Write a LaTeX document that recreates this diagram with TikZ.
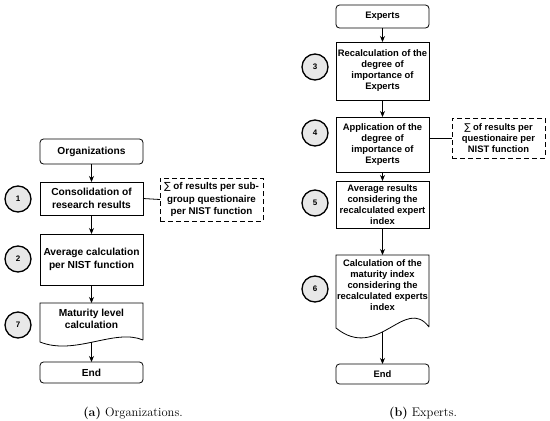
\documentclass[tikz,border=0pt]{standalone}
\usepackage{fontspec}
\newfontfamily\boxfont{Liberation Sans}
\newfontfamily\sumfont{DejaVu Sans}
\newcommand{\sumsign}{{\sumfont\mdseries ∑}}
\usetikzlibrary{arrows.meta,calc}
\begin{document}
\begin{tikzpicture}[x=1pt, y=-1pt, >={Stealth[length=6pt,width=5pt]},
  proc/.style={draw, shape=rectangle, line width=0.8pt, outer sep=0pt, inner xsep=1pt,
    align=center, font=\boxfont\bfseries\fontsize{9.4}{11}\selectfont},
  largetext/.style={font=\boxfont\bfseries\fontsize{10.2}{12.4}\selectfont},
  startend/.style={proc, rounded corners=3.5pt},
  docbox/.style={proc, draw=none},
  docline/.style={line width=0.8pt},
  sumnote/.style={proc, line width=0.8pt, dash pattern=on 5pt off 3pt},
  stepnum/.style={draw, shape=circle, line width=1.3pt, fill=gray!18, minimum size=26pt,
    inner sep=0pt, font=\boxfont\bfseries\fontsize{8}{9}\selectfont},
  caption/.style={font=\fontsize{12.5}{14}\selectfont}]
\useasboundingbox (0,0) rectangle (550,421);
% (a) organizations
\node (org) [startend, largetext, minimum width=103, minimum height=25] at (91.5,151.5) {Organizations};
\node (cons) [proc, largetext, minimum width=103, minimum height=33] at (91.5,198.5) {Consolidation of\\research results};
\node (avg) [proc, largetext, minimum width=103, minimum height=51] at (91.5,259.5) {Average calculation\\per NIST function};
\node (mat) [docbox, largetext, minimum width=103] at (91.5,319) {Maturity level\\calculation};
\node (endA) [startend, largetext, minimum width=103, minimum height=21] at (91.5,372.5) {End};
\node (sumA) [sumnote, largetext, font=\boxfont\bfseries\fontsize{9.8}{12.2}\selectfont,
  minimum width=103, minimum height=43] at (211.5,199.5)
  {\sumsign{} of results per sub-\\group questionaire\\per NIST function};
\node (n1) [stepnum] at (18,199) {1};
\node (n2) [stepnum] at (18,259) {2};
\node (n7) [stepnum] at (18,325) {7};
\draw[docline] ($(mat.east)+(0,21)$) -- ($(mat.east)+(0,-16)$) -- ($(mat.west)+(0,-16)$)
  -- ($(mat.west)+(0,23)$) .. controls +(35,14) and +(-28,-12) .. ($(mat.east)+(0,21)$);
\coordinate (matbot) at ($(mat.center)+(0,23)$);
\draw[->, thick] (org) -- (cons);
\draw[->, thick] (cons) -- (avg);
\draw[->, thick] (avg) -- ($(mat.center)+(0,-16)$);
\draw[->, thick] (matbot) -- (endA);
\draw[thick] (cons.east) -- (sumA.west);
% (b) experts
\node (exp) [startend, minimum width=93, minimum height=23] at (382.5,16.5) {Experts};
\node (recalc) [proc, minimum width=93, minimum height=58] at (382.5,71)
  {Recalculation of the\\degree of\\importance of\\Experts};
\node (appl) [proc, minimum width=93, minimum height=55] at (382.5,144.5)
  {Application of the\\degree of\\importance of\\Experts};
\node (avgR) [proc, minimum width=93, minimum height=47] at (382.5,204.5)
  {Average results\\considering the\\recalculated expert\\index};
\node (calc) [docbox, minimum width=93] at (382.5,285.5)
  {Calculation of the\\maturity index\\considering the\\recalculated experts\\index};
\node (endB) [startend, minimum width=93, minimum height=20] at (382.5,374) {End};
\node (sumB) [sumnote, minimum width=93, minimum height=40] at (498.5,138)
  {\sumsign{} of results per\\questionaire per\\NIST function};
\node (n3) [stepnum] at (315,67) {3};
\node (n4) [stepnum] at (315,133) {4};
\node (n5) [stepnum] at (315,203) {5};
\node (n6) [stepnum] at (315,289) {6};
\draw[docline] ($(calc.east)+(0,41.5)$) -- ($(calc.east)+(0,-30.5)$) -- ($(calc.west)+(0,-30.5)$)
  -- ($(calc.west)+(0,42.5)$) .. controls +(42,34) and +(-24,-32) .. ($(calc.east)+(0,41.5)$);
\coordinate (calcbot) at ($(calc.center)+(0,46)$);
\draw[->, thick] (exp) -- (recalc);
\draw[->, thick] (recalc) -- (appl);
\draw[->, thick] (appl) -- (avgR);
\draw[->, thick] (avgR) -- ($(calc.center)+(0,-30.5)$);
\draw[->, thick] (calcbot) -- (endB);
\draw[thick] (sumB.west) -- (sumB.west -| appl.east);
% captions
\node (capA) [caption] at (133,413) {\textbf{(a)} Organizations.};
\node (capB) [caption] at (423,413) {\textbf{(b)} Experts.};
\end{tikzpicture}
\end{document}
